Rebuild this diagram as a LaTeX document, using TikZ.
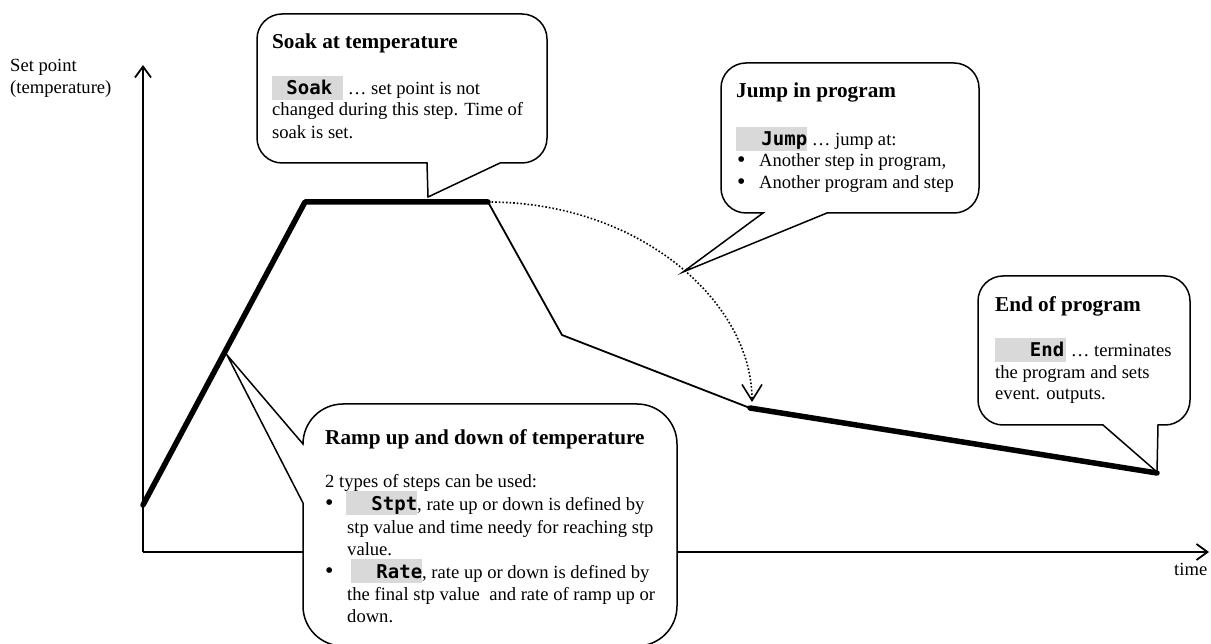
\documentclass[tikz,border=0pt]{standalone}
\usepackage{fontspec}
\setmainfont{Liberation Serif}
\setmonofont{DejaVu Sans Mono}
\usetikzlibrary{arrows.meta}
\definecolor{fieldgray}{HTML}{D9D9D9}
\newcommand{\fieldbox}[2][0pt]{{\setlength{\fboxsep}{0pt}\colorbox{fieldgray}{\makebox[71pt][r]{\rule[-5pt]{0pt}{24pt}\fontsize{19}{22}\selectfont\ttfamily\bfseries #2\hspace*{#1}}}}}
\newcommand{\bigbul}[1]{\makebox[#1][l]{\smash{\raisebox{-0.5pt}{\fontsize{24}{22}\selectfont•}}}}
\begin{document}
\begin{tikzpicture}[x=1pt,y=1pt,yscale=-1,
  txt/.style={anchor=base west,inner sep=0pt,font=\fontsize{18.6}{22}\selectfont},
  ttl/.style={anchor=base west,inner sep=0pt,font=\fontsize{21.2}{25}\selectfont\bfseries},
  axisline/.style={line width=1.8pt,-{Straight Barb[length=11pt,width=16pt]}},
  boldseg/.style={line width=5.5pt,line cap=round,line join=round},
  thinseg/.style={line width=1.8pt,line join=round},
  bubble/.style={draw,fill=white,line width=1.5pt},
  jumparrow/.style={dotted,line width=1.6pt,-{Straight Barb[length=16pt,width=20pt]}}]
\useasboundingbox (0,0) rectangle (1211,644);

% axes
\coordinate (O) at (143,552);
\coordinate (ytop) at (143,65);
\coordinate (xend) at (1209,552);
\draw[axisline] (O) -- (ytop);
\draw[axisline] (O) -- (xend);
\node[txt] (ylab1) at (10,72) {Set point};
\node[txt] (ylab2) at (10,94) {(temperature)};
\node[txt] (xlab) at (1174,575) {time};

% program curve
\coordinate (p0) at (143,505);
\coordinate (p1) at (305,202);
\coordinate (p2) at (488,202);
\coordinate (p3) at (562,335);
\coordinate (p4) at (750,408);
\coordinate (p5) at (1157,473);
\coordinate (jt) at (752,402);
\draw[boldseg] (p0) -- (p1) -- (p2);
\draw[thinseg] (p2) -- (p3) -- (p4);
\draw[boldseg] (p4) -- (p5);
\draw[jumparrow] (p2) .. controls +(152,0) and +(0,-100) .. (jt);

% Soak callout
\draw[bubble] (500,163) -- (428,197) -- (427,163) -- (282,163)
  arc[start angle=90,end angle=180,radius=25] -- (257,39)
  arc[start angle=180,end angle=270,radius=25] -- (522,14)
  arc[start angle=270,end angle=360,radius=25] -- (547,138)
  arc[start angle=0,end angle=90,radius=25] -- cycle;
\node[ttl] (soakT) at (272,49) {Soak at temperature};
\node[txt] (soak1) at (272,95) {\fieldbox[11pt]{Soak} … set point is not};
\node[txt] (soak2) at (272,116) {changed during this step. Time of};
\node[txt] (soak3) at (272,139) {soak is set.};

% Jump callout
\draw[bubble] (827,213) -- (683,272) -- (763,213) -- (746,213)
  arc[start angle=90,end angle=180,radius=25] -- (721,88)
  arc[start angle=180,end angle=270,radius=25] -- (954,63)
  arc[start angle=270,end angle=360,radius=25] -- (979,188)
  arc[start angle=0,end angle=90,radius=25] -- cycle;
\node[ttl] (jumpT) at (736,98) {Jump in program};
\node[txt] (jump1) at (736,146) {\fieldbox{Jump} … jump at:};
\node[txt] (jump2) at (737,167) {\bigbul{22pt}Another step in program,};
\node[txt] (jump3) at (737,189) {\bigbul{22pt}Another program and step};

% End callout
\draw[bubble] (1158,425) -- (1157,472) -- (1103,425) -- (1003,425)
  arc[start angle=90,end angle=180,radius=25] -- (978,301)
  arc[start angle=180,end angle=270,radius=25] -- (1165,276)
  arc[start angle=270,end angle=360,radius=25] -- (1190,400)
  arc[start angle=0,end angle=90,radius=25] -- cycle;
\node[ttl] (endT) at (995,312) {End of program};
\node[txt] (end1) at (995,357) {\fieldbox[2pt]{End} … terminates};
\node[txt] (end2) at (995,379) {the program and sets};
\node[txt] (end3) at (995,400) {event. outputs.};

% Ramp callout
\draw[bubble] (303,503) -- (227,355) -- (303,444)
  arc[start angle=180,end angle=270,radius=40] -- (637,404)
  arc[start angle=270,end angle=360,radius=40] -- (677,606)
  arc[start angle=0,end angle=90,radius=40] -- (343,646)
  arc[start angle=90,end angle=180,radius=40] -- cycle;
\node[ttl] (rampT) at (325,444) {Ramp up and down of temperature};
\node[txt] (ramp1) at (325,487) {2 types of steps can be used:};
\node[txt] (ramp2) at (325,510) {\bigbul{21pt}\fieldbox{Stpt}, rate up or down is defined by};
\node[txt] (ramp3) at (347,533) {stp value and time needy for reaching stp};
\node[txt] (ramp4) at (347,555) {value.};
\node[txt] (ramp5) at (325,578) {\bigbul{26pt}\fieldbox{Rate}, rate up or down is defined by};
\node[txt] (ramp6) at (347,600) {the final stp value~ and rate of ramp up or};
\node[txt] (ramp7) at (347,622) {down.};
\end{tikzpicture}
\end{document}
